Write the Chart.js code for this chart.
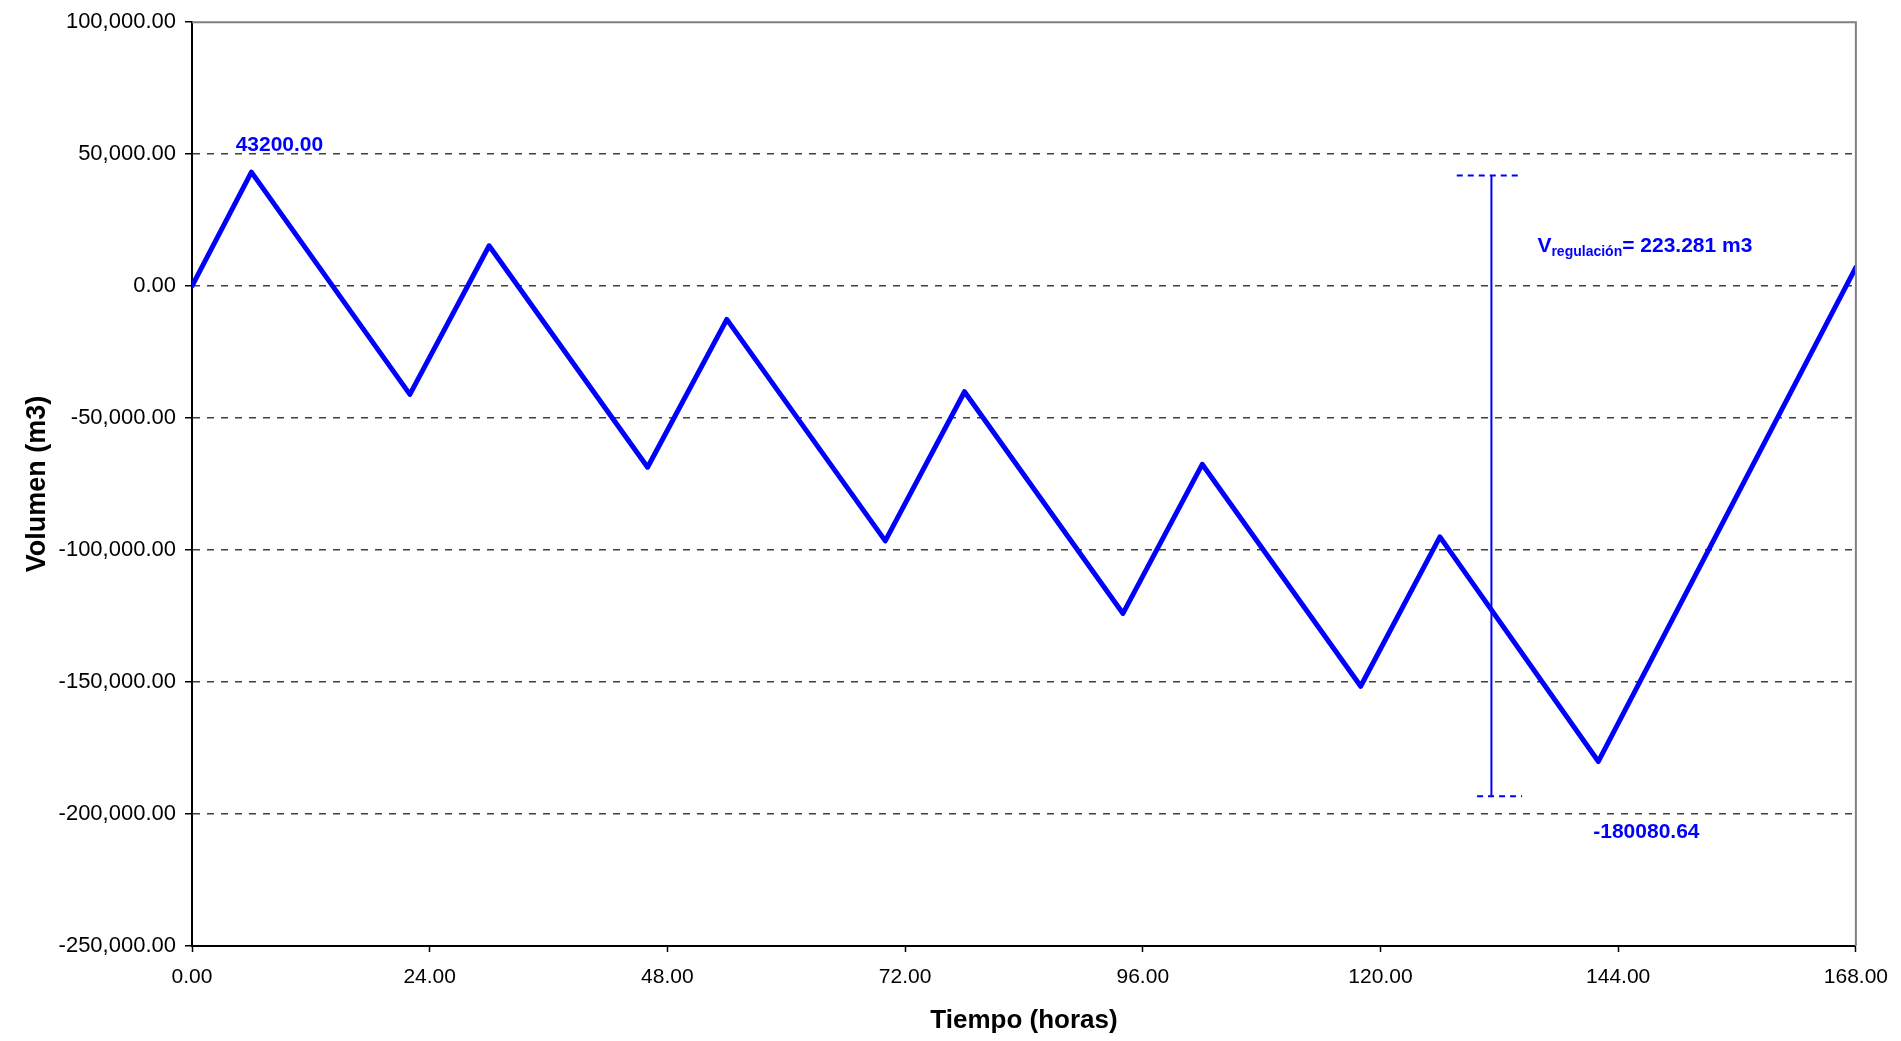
<!DOCTYPE html>
<html>
<head>
<meta charset="utf-8">
<script src="https://cdn.jsdelivr.net/npm/chart.js@4.4.1/dist/chart.umd.min.js"></script>
<style>
  body { margin: 0; background: #fff; }
  #wrap { width: 1901px; height: 1041px; }
</style>
</head>
<body>
<div id="wrap"><canvas id="myChart"></canvas></div>
<script>
// hours / volume (turning points of the curve)
const hours = [0, 6, 22, 30, 46, 54, 70, 78, 94, 102, 118, 126, 142, 168];
const volume = [0, 43200, -41000, 15300, -68600, -12600, -96500, -40000, -124000, -67500, -151600, -95000, -180080.64, 7120];

const xTicks = [0, 24, 48, 72, 96, 120, 144, 168];
const yTicks = [100000, 50000, 0, -50000, -100000, -150000, -200000, -250000];

// regulation bracket
const regHour = 131.2;
const regTop = 41950;
const regBottom = -193240;
const regTopCap = [127.7, 134.0];
const regBottomCap = [129.75, 134.3];

const blue = "#0000ff";
const fontFam = "'Liberation Sans', Arial, sans-serif";

const maxVol = Math.max(...volume);
const minVol = Math.min(...volume);
const maxIdx = volume.indexOf(maxVol);
const minIdx = volume.indexOf(minVol);

const annotations = {
  id: "annotations",
  afterDatasetsDraw(chart) {
    const { ctx, chartArea, scales } = chart;
    const x = scales.x;
    const y = scales.y;
    ctx.save();

    // grey frame on top and right
    ctx.strokeStyle = "#808080";
    ctx.lineWidth = 2;
    ctx.beginPath();
    ctx.moveTo(chartArea.left, chartArea.top);
    ctx.lineTo(chartArea.right, chartArea.top);
    ctx.lineTo(chartArea.right, chartArea.bottom);
    ctx.stroke();

    ctx.fillStyle = blue;
    ctx.textAlign = "center";
    ctx.textBaseline = "middle";
    ctx.font = "bold 21px " + fontFam;

    // max label
    const px = x.getPixelForValue(hours[maxIdx]);
    const py = y.getPixelForValue(maxVol);
    ctx.fillText(maxVol.toFixed(2), px + 28, py - 27);

    // min label
    const qx = x.getPixelForValue(hours[minIdx]);
    const qy = y.getPixelForValue(minVol);
    ctx.fillText(minVol.toFixed(2), qx + 48, qy + 71);

    // V regulacion text
    const rx = x.getPixelForValue(regHour) + 46;
    const ry = y.getPixelForValue(regTop) + 77;
    ctx.textAlign = "left";
    ctx.textBaseline = "alphabetic";
    ctx.font = "bold 21px " + fontFam;
    ctx.fillText("V", rx, ry);
    let w = ctx.measureText("V").width;
    ctx.font = "bold 14px " + fontFam;
    ctx.fillText("regulación", rx + w, ry + 4);
    w += ctx.measureText("regulación").width;
    ctx.font = "bold 21px " + fontFam;
    const vReg = ((maxVol - minVol) / 1000).toFixed(3);
    ctx.fillText("= " + vReg + " m3", rx + w, ry);

    ctx.restore();
  },
};

const ctx = document.getElementById("myChart");

new Chart(ctx, {
  type: "line",
  data: {
    datasets: [
      {
        data: hours.map((h, i) => ({ x: h, y: volume[i] })),
        borderColor: blue,
        borderWidth: 5,
        pointRadius: 0,
        tension: 0,
        borderJoinStyle: "round",
        borderCapStyle: "round",
      },
      {
        data: [
          { x: regHour, y: regTop },
          { x: regHour, y: regBottom },
        ],
        borderColor: blue,
        borderWidth: 2,
        pointRadius: 0,
      },
      {
        data: regTopCap.map((h) => ({ x: h, y: regTop })),
        borderColor: blue,
        borderWidth: 2,
        borderDash: [6, 5],
        pointRadius: 0,
      },
      {
        data: regBottomCap.map((h) => ({ x: h, y: regBottom })),
        borderColor: blue,
        borderWidth: 2,
        borderDash: [6, 5],
        pointRadius: 0,
      },
    ],
  },
  options: {
    responsive: true,
    maintainAspectRatio: false,
    animation: false,
    layout: { padding: { top: 21, right: 44, bottom: 0, left: 0 } },
    plugins: {
      legend: { display: false },
      tooltip: { enabled: false },
    },
    scales: {
      x: {
        type: "linear",
        min: 0,
        max: 168,
        afterBuildTicks: (s) => {
          s.ticks = xTicks.map((v) => ({ value: v }));
        },
        afterFit: (s) => {
          s.height = 95;
        },
        ticks: {
          color: "#000",
          font: { family: fontFam, size: 21 },
          padding: 13,
          maxRotation: 0,
          callback: (v) => Number(v).toFixed(2),
        },
        grid: {
          drawOnChartArea: false,
          tickLength: 6,
          tickColor: "#000",
          tickWidth: 1.5,
        },
        border: { color: "#000", width: 2 },
        title: {
          display: true,
          text: "Tiempo (horas)",
          color: "#000",
          font: { family: fontFam, size: 26, weight: "bold" },
          padding: { top: 0, bottom: 5 },
        },
      },
      y: {
        min: -250000,
        max: 100000,
        afterBuildTicks: (s) => {
          s.ticks = yTicks.map((v) => ({ value: v }));
        },
        afterFit: (s) => {
          s.width = 192;
        },
        ticks: {
          color: "#000",
          font: { family: fontFam, size: 22 },
          padding: 9,
          callback: (v) =>
            Number(v).toLocaleString("en-US", {
              minimumFractionDigits: 2,
              maximumFractionDigits: 2,
            }),
        },
        grid: {
          color: (c) =>
            c.tick && (c.tick.value === 100000 || c.tick.value === -250000)
              ? "rgba(0,0,0,0)"
              : "#404040",
          lineWidth: 1.5,
          tickLength: 7,
          tickColor: "#000",
          tickWidth: 1.5,
        },
        border: { color: "#000", width: 2, dash: [7, 7] },
        title: {
          display: true,
          text: "Volumen (m3)",
          color: "#000",
          font: { family: fontFam, size: 27, weight: "bold" },
          padding: { top: 21, bottom: 0 },
        },
      },
    },
  },
  plugins: [annotations],
});
</script>
</body>
</html>
